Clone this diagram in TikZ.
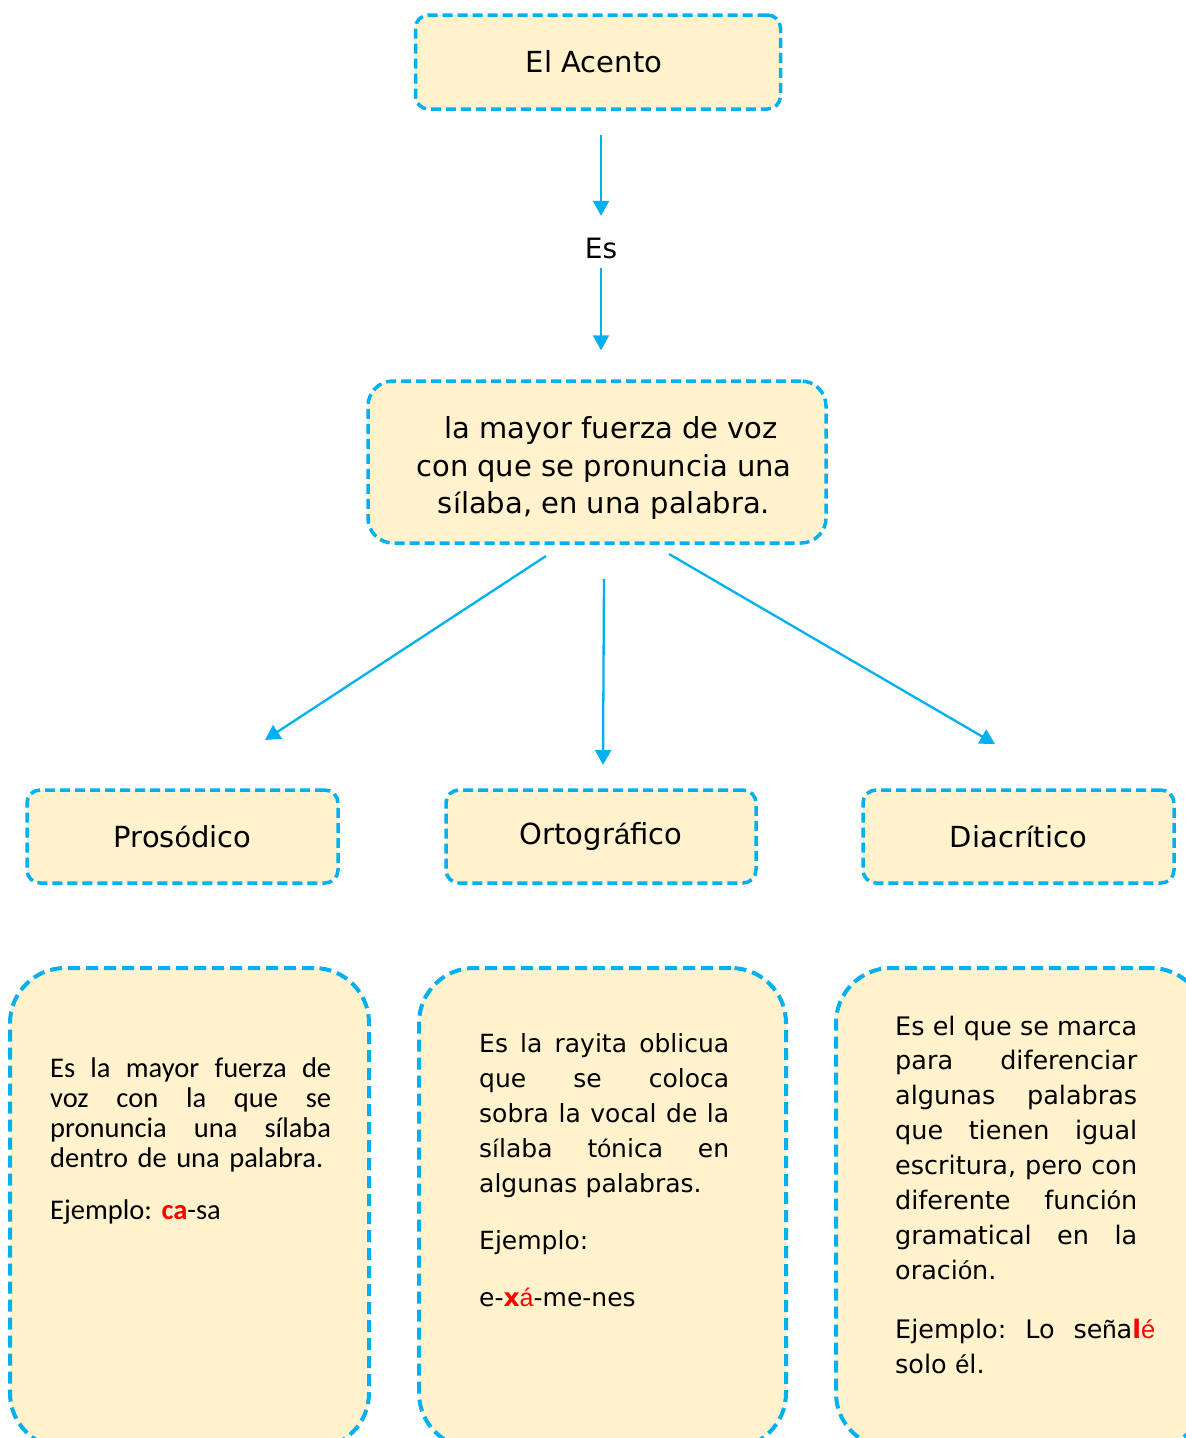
\documentclass[tikz,border=0pt]{standalone}
\usepackage{fontspec}
\setmainfont{DejaVu Sans}
\newfontfamily\calib{Carlito}
\newfontfamily\alt{Liberation Sans}
\usetikzlibrary{calc,arrows.meta}
\definecolor{bord}{HTML}{00B0F0}
\definecolor{fillc}{HTML}{FFF2CC}
\definecolor{redc}{HTML}{FF0000}
\newcommand{\jb}[2]{\leavevmode\hbox to #1{#2}}
\frenchspacing
\begin{document}
\begin{tikzpicture}[x=1pt,y=-1pt,
  box/.style={draw=bord, fill=fillc, line width=3.5pt, dash pattern=on 10pt off 5pt,
    rounded corners=13pt, inner sep=0pt, font=\fontsize{29}{37.5}\selectfont},
  bigbox/.style={box, line width=4pt, dash pattern=on 12pt off 6pt, rounded corners=55pt},
  arr/.style={draw=bord, line width=2.3pt, -{Triangle[length=15pt,width=16pt]}},
  txt/.style={inner sep=0pt, anchor=base west, align=left, text width=#1},
]
\useasboundingbox (0,0) rectangle (1186,1438);
\clip (0,0) rectangle (1186,1438);

% top box
\node[box, minimum width=365pt, minimum height=94pt] (top) at (598,62) {\hspace*{-8pt}El Acento};
\node[inner sep=0pt, minimum height=40pt, font=\fontsize{28}{32}\selectfont] (es) at (601,248) {Es};

% middle box
\node[box, rounded corners=25pt, minimum width=458pt, minimum height=162pt] (mid) at (597,462) {};
\node[inner sep=0pt, align=center, font=\fontsize{29}{37.5}\selectfont] (midtxt) at (604,468)
  {\hspace*{0.5em}la mayor fuerza de voz\\con que se pronuncia una\\s{\alt í}laba, en una palabra.};

\draw[arr, shorten <=24pt, shorten >=12pt] (es |- top.south) -- (es.north);
\draw[arr, shorten >=29pt] (es.south) -- (es |- mid.north);

% small boxes
\node[box, minimum width=311pt, minimum height=93pt] (pros) at (182.5,836.5) {Pros{\alt ó}dico};
\node[box, minimum width=310pt, minimum height=93pt] (orto) at (601,836.5) {\raisebox{3pt}{Ortogr{\alt á}fico}};
\node[box, minimum width=311pt, minimum height=93pt] (diac) at (1018.5,836.5) {Diacr{\alt í}tico};

\coordinate (a1s) at (546,556); \coordinate (a1e) at (265,740);
\coordinate (a2s) at (604,579); \coordinate (a2e) at (603,765);
\coordinate (a3s) at (669,554); \coordinate (a3e) at (995,744);
\draw[arr] (a1s) -- (a1e);
\draw[arr] (a2s) -- (a2e);
\draw[arr] (a3s) -- (a3e);

% bottom boxes
\node[bigbox, minimum width=359pt, minimum height=480pt] (b1) at (189.5,1208) {};
\node[bigbox, minimum width=367pt, minimum height=480pt] (b2) at (602.5,1208) {};
\node[bigbox, minimum width=370pt, minimum height=480pt] (b3) at (1021,1208) {};

% left text (Carlito)
\node[txt=281pt, font=\calib\fontsize{28.5}{30}\selectfont] (t1) at (50,1077)
 {\jb{281pt}{Es\hfill la\hfill mayor\hfill fuerza\hfill de}\\
  \jb{281pt}{voz\hfill con\hfill la\hfill que\hfill se}\\
  \jb{281pt}{pronuncia\hfill una\hfill sílaba}\\
  dentro de una palabra.\\[22pt]
  Ejemplo: {\color{redc}\bfseries ca}-sa};

% middle text
\node[txt=250pt, font=\fontsize{25}{35}\selectfont] (t2) at (479,1052)
 {\jb{250pt}{Es\hfill la\hfill rayita\hfill oblicua}\\
  \jb{250pt}{que\hfill se\hfill coloca}\\
  \jb{250pt}{sobra\hfill la\hfill vocal\hfill de\hfill la}\\
  \jb{250pt}{s{\alt í}laba\hfill t{\alt ó}nica\hfill en}\\
  algunas palabras.\\[22pt]
  Ejemplo:\\[22pt]
  e-{\color{redc}\bfseries x}{\color{redc}\alt á}-me-nes};

% right text
\node[txt=242pt, font=\fontsize{25.5}{34.9}\selectfont] (t3) at (895,1035)
 {\jb{242pt}{Es\hfill el\hfill que\hfill se\hfill marca}\\
  \jb{242pt}{para\hfill diferenciar}\\
  \jb{242pt}{algunas\hfill palabras}\\
  \jb{242pt}{que\hfill tienen\hfill igual}\\
  \jb{242pt}{escritura,\hfill pero\hfill con}\\
  \jb{242pt}{diferente\hfill funci{\alt ó}n}\\
  \jb{242pt}{gramatical\hfill en\hfill la}\\
  oraci{\alt ó}n.\\[24pt]
  \jb{260pt}{Ejemplo:\hfill Lo\hfill se{\alt ñ}a{\color{redc}\bfseries l}{\color{redc}\alt é}}\\
  solo {\alt é}l.};
\end{tikzpicture}
\end{document}
